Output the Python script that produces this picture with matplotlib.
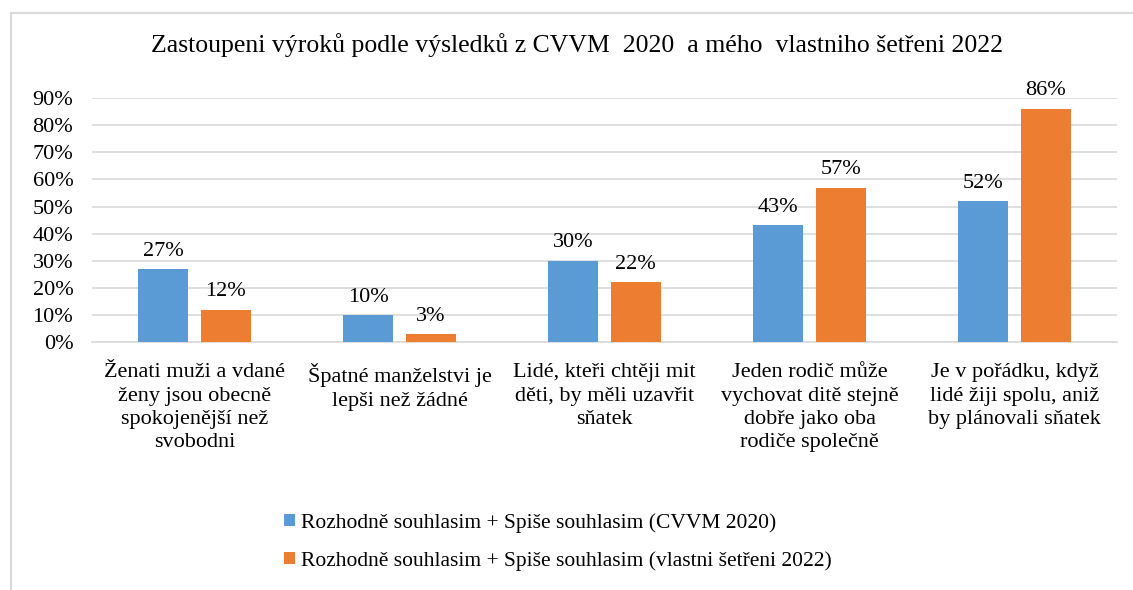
import matplotlib.pyplot as plt
from matplotlib.patches import Rectangle
from matplotlib.ticker import PercentFormatter
import numpy as np

plt.rcParams['font.family'] = ['Liberation Serif', 'DejaVu Serif']

# Data
kategorie = [
    'Ženati muži a vdané\nženy jsou obecně\nspokojenější než\nsvobodni',
    'Špatné manželstvi je\nlepši než žádné',
    'Lidé, kteři chtěji mit\nděti, by měli uzavřit\nsňatek',
    'Jeden rodič může\nvychovat ditě stejně\ndobře jako oba\nrodiče společně',
    'Je v pořádku, když\nlidé žiji spolu, aniž\nby plánovali sňatek',
]
cvvm_2020 = [0.27, 0.10, 0.30, 0.43, 0.52]
vlastni_2022 = [0.12, 0.03, 0.22, 0.57, 0.86]
serie_nazvy = [
    'Rozhodně souhlasim + Spiše souhlasim (CVVM 2020)',
    'Rozhodně souhlasim + Spiše souhlasim (vlastni šetřeni 2022)',
]
titulek = 'Zastoupeni výroků podle výsledků z CVVM  2020  a mého  vlastniho šetřeni 2022'

MODRA = '#5b9bd5'
ORANZOVA = '#ed7d31'

fig = plt.figure(figsize=(11.33, 5.90), dpi=100)
ax = fig.add_axes([92 / 1133, 0.42, 1025 / 1133, 0.414])

x = np.arange(len(kategorie))
width = 0.245
off = 0.152

b1 = ax.bar(x - off, cvvm_2020, width, color=MODRA, label=serie_nazvy[0], zorder=3)
b2 = ax.bar(x + off, vlastni_2022, width, color=ORANZOVA, label=serie_nazvy[1], zorder=3)

for bars, vals in ((b1, cvvm_2020), (b2, vlastni_2022)):
    for bar, v in zip(bars, vals):
        ax.annotate(f'{v * 100:.0f}%',
                    xy=(bar.get_x() + bar.get_width() / 2, bar.get_height()),
                    xytext=(0, 6), textcoords='offset points',
                    ha='center', va='bottom', fontsize=16, clip_on=False)

ax.set_xlim(-0.5, len(kategorie) - 0.5)
ax.set_ylim(0, 0.9)
ax.set_yticks(np.arange(0, 0.91, 0.1))
ax.yaxis.set_major_formatter(PercentFormatter(1.0, decimals=0))
ax.set_xticks(x)
ax.set_xticklabels(kategorie, fontsize=16.5, linespacing=1.32)
ax.tick_params(axis='both', length=0, labelsize=16)
ax.tick_params(axis='y', pad=13.5)
ax.tick_params(axis='x', pad=15)

ax.yaxis.grid(True, color='#d9d9d9', linewidth=1.2)
ax.set_axisbelow(True)
for s in ('top', 'right', 'left'):
    ax.spines[s].set_visible(False)
ax.spines['bottom'].set_color('#d9d9d9')
ax.spines['bottom'].set_linewidth(1.2)

fig.text(0.509, 0.923, titulek, ha='center', va='center', fontsize=18.5)

fig.legend(handles=[b1, b2], labels=serie_nazvy, loc='upper left',
           bbox_to_anchor=(0.234, 0.163), frameon=False, fontsize=15.5,
           handlelength=0.48, handleheight=0.48, handletextpad=0.3,
           labelspacing=0.85)

# ramecek kolem grafu
fig.patches.append(Rectangle((11 / 1133, -0.1), 1.2, 1 - 13 / 590 + 0.1,
                             transform=fig.transFigure, fill=False,
                             edgecolor='#d9d9d9', linewidth=1.5))

plt.savefig('out.png', dpi=100)
